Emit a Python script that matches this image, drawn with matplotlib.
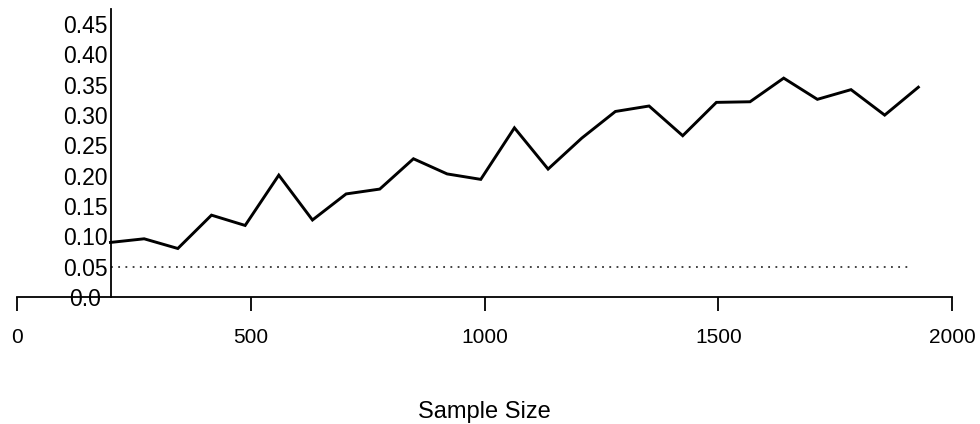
import matplotlib

matplotlib.use("Agg")
import matplotlib.pyplot as plt

sample_size = [200, 272, 344, 416, 488, 560, 632, 704, 776, 848, 920, 992, 1064,
               1136, 1208, 1280, 1352, 1424, 1496, 1568, 1640, 1712, 1784, 1856, 1928]
value = [0.090, 0.096, 0.080, 0.135, 0.118, 0.201, 0.127, 0.170, 0.178, 0.228,
         0.203, 0.194, 0.279, 0.211, 0.262, 0.306, 0.315, 0.266, 0.321, 0.322,
         0.361, 0.326, 0.342, 0.300, 0.346]

ref_level = 0.05
ref_span = [200, 1915]

x_ticks = [0, 500, 1000, 1500, 2000]
y_ticks = [0.0, 0.05, 0.10, 0.15, 0.20, 0.25, 0.30, 0.35, 0.40, 0.45]
y_labels = ["0.0", "0.05", "0.10", "0.15", "0.20", "0.25", "0.30", "0.35", "0.40", "0.45"]

plt.rcParams["font.family"] = ["Liberation Sans", "DejaVu Sans"]

fig = plt.figure(figsize=(9.8, 4.24), dpi=100)
ax = fig.add_axes([17 / 980, 127 / 424, 935 / 980, 288 / 424])

ax.plot(sample_size, value, color="black", lw=2.1, solid_joinstyle="miter")
ax.plot(ref_span, [ref_level, ref_level], color="#333333", lw=1.3, ls=(0, (1, 3.0)))

ax.set_xlim(0, 2000)
ax.set_ylim(0, 0.475)

for side in ("top", "right"):
    ax.spines[side].set_visible(False)
ax.spines["left"].set_position(("data", 200))
ax.spines["bottom"].set_bounds(0, 2000)
ax.spines["left"].set_linewidth(1.3)
ax.spines["bottom"].set_linewidth(1.3)

ax.set_xticks(x_ticks)
ax.set_xticklabels([str(t) for t in x_ticks])
ax.tick_params(axis="x", direction="out", length=10, width=1.3, pad=12, labelsize=15)

ax.set_yticks(y_ticks)
ax.set_yticklabels(y_labels)
ax.tick_params(axis="y", length=0, pad=18, labelsize=16.5)
for lab in ax.get_yticklabels():
    lab.set_horizontalalignment("center")

ax.set_xlabel("Sample Size", fontsize=17, labelpad=39)

fig.savefig("out.png", dpi=100, facecolor="white")
